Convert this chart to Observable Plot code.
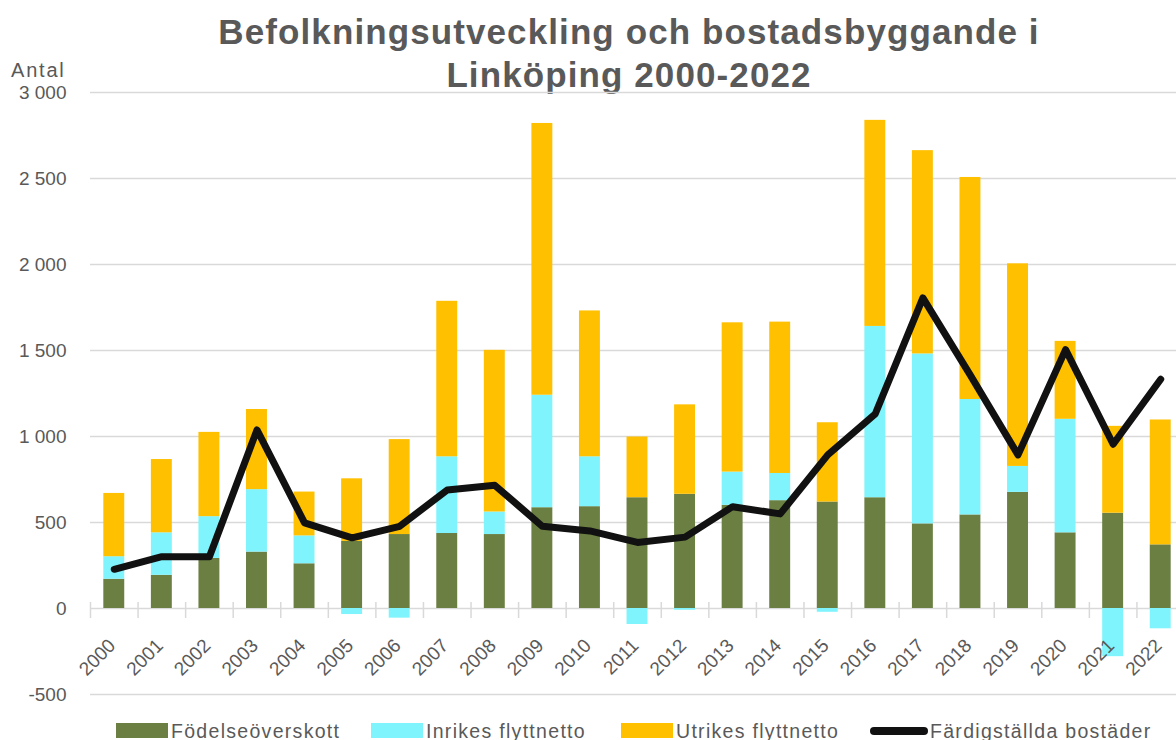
<!DOCTYPE html>
<html><head><meta charset="utf-8">
<script src="https://cdn.jsdelivr.net/npm/d3@7"></script>
<script src="https://cdn.jsdelivr.net/npm/@observablehq/plot@0.6"></script>
<style>
body{margin:0;background:#fff;}
#wrap{position:relative;width:1176px;height:740px;overflow:hidden;font-family:"Liberation Sans",Arial,sans-serif;}
#title{position:absolute;left:82px;right:0;top:9.5px;text-align:center;font-weight:bold;font-size:35px;line-height:43.4px;letter-spacing:1.1px;color:#595959;}
#antal{position:absolute;left:11px;top:58px;font-family:"Liberation Sans",Arial,sans-serif;font-size:20px;line-height:24px;color:#595959;letter-spacing:1.8px;}
#chart{position:absolute;left:0;top:80px;}
.leg{position:absolute;top:722.5px;height:16px;line-height:16px;display:flex;align-items:center;font-family:"Liberation Sans",Arial,sans-serif;font-size:19.5px;letter-spacing:1.3px;color:#595959;white-space:nowrap;}
.sw{display:inline-block;width:52px;height:14.6px;margin-right:3px;}
.ln{display:inline-block;width:58px;height:8px;border-radius:4px;background:#111;margin-right:2px;}
</style>
</head><body>
<div id="wrap">
  <div id="title">Befolkningsutveckling och bostadsbyggande i<br>Linköping 2000-2022</div>
  <div id="antal">Antal</div>
  <div id="chart"></div>
  <div id="legend"></div>
</div>
<script>
const years = [2000,2001,2002,2003,2004,2005,2006,2007,2008,2009,2010,2011,2012,2013,2014,2015,2016,2017,2018,2019,2020,2021,2022];
const fodelseoverskott = [170,193,291,328,260,390,430,436,430,586,592,644,664,600,627,619,644,492,544,675,440,554,370];
const inrikesFlyttnetto = [131,247,243,363,162,-35,-56,446,131,654,290,-93,-10,193,158,-22,996,988,671,151,660,-280,-118];
const utrikesFlyttnetto = [368,426,490,466,255,364,552,904,940,1580,848,353,520,868,880,461,1198,1182,1291,1178,453,505,726];
const fardigstalldaBostader = [228,301,301,1038,498,411,478,689,716,478,451,384,415,592,550,893,1132,1806,1355,893,1505,955,1333];
const series = ["Födelseöverskott","Inrikes flyttnetto","Utrikes flyttnetto"];
const lineLabel = "Färdigställda bostäder";
const colors = ["#6b7f43","#7ff4fc","#ffc000"];
const lineColor = "#111111";
const yTicks = [-500,0,500,1000,1500,2000,2500,3000];

const seriesValues = [fodelseoverskott, inrikesFlyttnetto, utrikesFlyttnetto];
const rows = [];
series.forEach((s, si) => years.forEach((yr, i) => rows.push({year: yr, serie: s, value: seriesValues[si][i]})));
const lineRows = years.map((yr, i) => ({year: yr, value: fardigstalldaBostader[i]}));

const fmt = d3.formatLocale({decimal: ",", thousands: " ", grouping: [3], currency: ["", ""], minus: "-"}).format(",");

const xRange = [90, 1184];
const step = (xRange[1] - xRange[0]) / years.length;

const chart = Plot.plot({
  width: 1176, height: 640,
  marginTop: 12, marginBottom: 26, marginLeft: 90, marginRight: 0,
  style: {fontFamily: "Liberation Sans, Arial, sans-serif", fontSize: "19px", color: "#595959", background: "transparent", overflow: "hidden"},
  x: {type: "band", domain: years, range: xRange, paddingInner: 0.56, paddingOuter: 0.28, round: false, axis: null},
  y: {domain: [-500, 3000], axis: null},
  color: {domain: series, range: colors},
  marks: [
    Plot.gridY(yTicks, {stroke: "#d9d9d9", strokeOpacity: 1, strokeWidth: 1.5}),
    Plot.axisY(yTicks, {label: null, tickSize: 0, tickPadding: 24, tickFormat: fmt, fill: "#595959", fontSize: 19, letterSpacing: 1}),
    Plot.ruleX(years, {x: d => d, y1: 0, y2: 0, insetTop: 10, insetBottom: 6, dx: -step / 2, stroke: "#d9d9d9", strokeWidth: 1.5}),
    Plot.barY(rows, {x: "year", y: "value", fill: "serie", order: series}),
    Plot.line(lineRows, {x: "year", y: "value", stroke: lineColor, strokeWidth: 7, strokeLinejoin: "round", strokeLinecap: "round"}),
    Plot.text(years, {x: d => d, y: 0, text: d => String(d), rotate: -45, textAnchor: "end", dx: -2, dy: 34, fill: "#595959", fontSize: 19, letterSpacing: 1})
  ]
});
document.getElementById("chart").appendChild(chart);

const legend = document.getElementById("legend");
const legLefts = [116, 371, 621];
series.forEach((s, i) => {
  const d = document.createElement("div");
  d.className = "leg";
  d.style.left = legLefts[i] + "px";
  d.innerHTML = `<span class="sw" style="background:${colors[i]}"></span><span>${s}</span>`;
  legend.appendChild(d);
});
const dl = document.createElement("div");
dl.className = "leg";
dl.style.left = "870px";
dl.innerHTML = `<span class="ln"></span><span>${lineLabel}</span>`;
legend.appendChild(dl);
</script>
</body></html>
